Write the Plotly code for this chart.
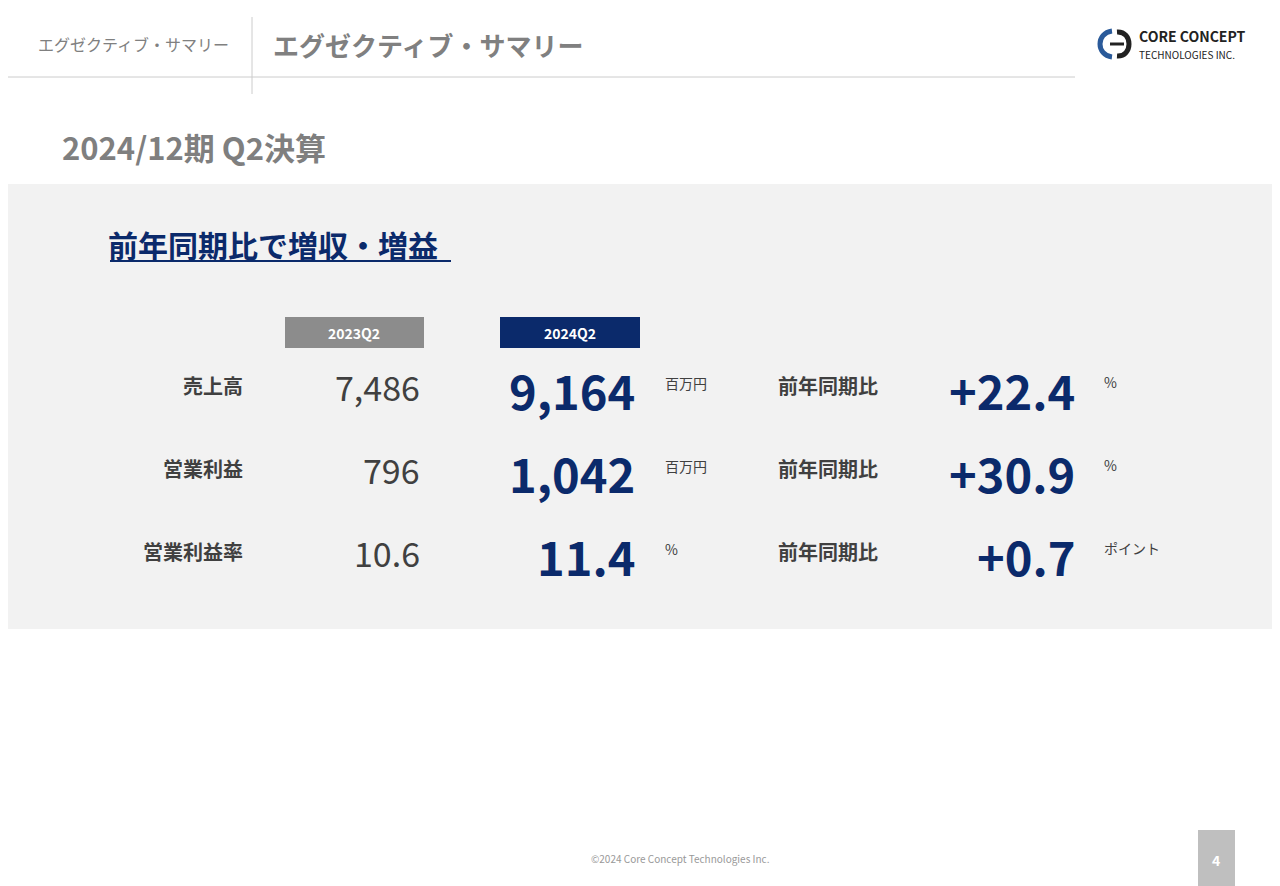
import plotly.graph_objects as go

metrics = ["売上高", "営業利益", "営業利益率"]
values_2023 = ["7,486", "796", "10.6"]
values_2024 = ["9,164", "1,042", "11.4"]
units = ["百万円", "百万円", "%"]
changes = ["+22.4", "+30.9", "+0.7"]
change_units = ["%", "%", "ポイント"]
periods = ["2023Q2", "2024Q2"]

FONT = "Noto Sans CJK JP"
NAVY = "#0b2a6b"
DARK = "#404040"
rows_y = [385, 468, 551]
OFF = 8  # page body margin

fig = go.Figure()
shapes = [
    dict(type="rect", x0=-20, x1=1300, y0=184, y1=629, fillcolor="#f2f2f2", line_width=0, layer="below"),
    dict(type="line", x0=-20, x1=1075, y0=77, y1=77, line=dict(color="#cccccc", width=1)),
    dict(type="line", x0=252, x1=252, y0=17, y1=94, line=dict(color="#cccccc", width=1)),
    dict(type="rect", x0=285, x1=424, y0=317, y1=348, fillcolor="#8c8c8c", line_width=0),
    dict(type="rect", x0=500, x1=640, y0=317, y1=348, fillcolor=NAVY, line_width=0),
    dict(type="line", x0=110, x1=451, y0=261, y1=261, line=dict(color=NAVY, width=2)),
    dict(type="rect", x0=1198, x1=1235, y0=830, y1=900, fillcolor="#bfbfbf", line_width=0),
    # logo mark
    dict(type="path", path="M 1112 31 C 1096 33, 1096 55, 1112 57", line=dict(color="#2a5a9a", width=5)),
    dict(type="path", path="M 1117 32 C 1133 31, 1133 57, 1117 56", line=dict(color="#222222", width=5)),
    dict(type="line", x0=1110, x1=1124, y0=44, y1=44, line=dict(color="#222222", width=3)),
]

ann = []
def t(x, y, s, size, color=DARK, anchor="left", bold=False):
    ann.append(dict(x=x, y=y, text=f"<b>{s}</b>" if bold else s, showarrow=False,
                    xanchor=anchor, yanchor="middle",
                    font=dict(family=FONT, size=size, color=color)))

t(36, 44, "エグゼクティブ・サマリー", 16, "#808080")
t(271, 44, "エグゼクティブ・サマリー", 26, "#808080", bold=True)
t(60, 146, "2024/12期 Q2決算", 31, "#7f7f7f", bold=True)
t(106, 244, "前年同期比で増収・増益", 30, NAVY, bold=True)
t(1137, 36, "<b>CORE CONCEPT</b>", 14, "#222222")
t(1137, 54, "TECHNOLOGIES INC.", 10, "#222222")
t(354, 333, periods[0], 14, "white", "center", True)
t(570, 333, periods[1], 14, "white", "center", True)

for i, y in enumerate(rows_y):
    t(245, y, metrics[i], 20, DARK, "right", True)
    t(422, y + 1, values_2023[i], 34, DARK, "right")
    t(637, y + 4, values_2024[i], 47, NAVY, "right", True)
    t(663, y - 2, units[i], 14, DARK)
    t(828, y, "前年同期比", 20, DARK, "center", True)
    t(1077, y + 4, changes[i], 47, NAVY, "right", True)
    t(1102, y - 3, change_units[i], 14, DARK)

t(680, 858, "©2024 Core Concept Technologies Inc.", 10, "#999999", "center")
t(1216, 860, "4", 14, "white", "center", True)

fig.update_layout(
    width=1280, height=886, margin=dict(l=0, r=0, t=0, b=0),
    paper_bgcolor="white", plot_bgcolor="white", showlegend=False,
    shapes=shapes, annotations=ann,
    xaxis=dict(range=[OFF, 1280 + OFF], visible=False, fixedrange=True),
    yaxis=dict(range=[886 + OFF, OFF], visible=False, fixedrange=True),
)
fig.write_html("out.html", config={"displayModeBar": False})
